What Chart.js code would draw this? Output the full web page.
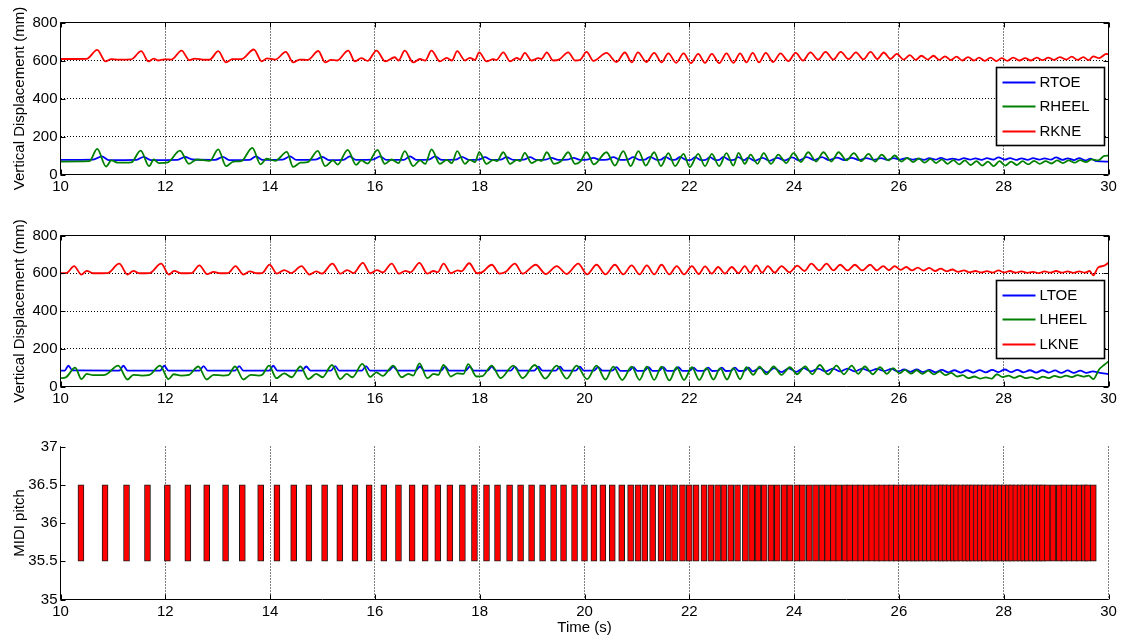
<!DOCTYPE html>
<html>
<head>
<meta charset="utf-8">
<script src="https://cdn.jsdelivr.net/npm/chart.js@4.4.1/dist/chart.umd.min.js"></script>
<style>
  body { margin: 0; background: #fff; }
  #wrap { position: relative; width: 1123px; height: 639px; background: #fff; }
  canvas { position: absolute; left: 0; }
</style>
</head>
<body>
<div id="wrap">
  <canvas id="topChart" width="1123" height="205" style="top:0px"></canvas>
  <canvas id="midChart" width="1123" height="215" style="top:205px"></canvas>
  <canvas id="botChart" width="1123" height="219" style="top:420px"></canvas>
</div>
<script>
// tick labels
const timeTicks = [10, 12, 14, 16, 18, 20, 22, 24, 26, 28, 30];
const dispTicks = [0, 200, 400, 600, 800];
const pitchTicks = [35, 35.5, 36, 36.5, 37];

// right leg markers, [time (s), vertical displacement (mm)] read at peaks / troughs
const rtoe = [[10.00,77],[10.62,78],[10.79,95],[10.92,76],[11.45,77],[11.59,93],[11.72,76],[12.22,77],[12.38,92],[12.52,79],
  [12.95,77],[13.10,93],[13.22,76],[13.60,77],[13.73,95],[13.86,77],[14.24,78],[14.38,95],[14.50,77],[14.86,78],
  [15.00,92],[15.12,76],[15.40,77],[15.52,95],[15.64,77],[15.96,78],[16.10,95],[16.22,77],[16.55,77],[16.67,95],
  [16.80,77],[17.03,78],[17.15,95],[17.28,77],[17.54,78],[17.66,93],[17.79,77],[17.98,78],[18.10,91],[18.22,77],
  [18.40,78],[18.51,91],[18.64,77],[18.84,78],[18.96,91],[19.08,77],[19.25,78],[19.37,88],[19.50,77],[19.67,78],
  [19.79,88],[19.92,77],[20.05,78],[20.17,88],[20.30,77],[20.43,78],[20.55,91],[20.68,77],[20.82,78],[20.93,91],
  [21.05,77],[21.15,78],[21.25,93],[21.38,77],[21.46,78],[21.54,93],[21.66,77],[21.74,78],[21.82,93],[21.95,76],
  [22.03,77],[22.11,91],[22.23,76],[22.31,77],[22.39,91],[22.51,76],[22.57,77],[22.65,93],[22.77,76],[22.85,77],
  [22.93,91],[23.05,76],[23.12,89],[23.25,72],[23.40,88],[23.53,72],[23.68,88],[23.82,74],[23.96,90],[24.10,74],
  [24.24,91],[24.39,76],[24.53,91],[24.67,76],[24.82,89],[24.96,76],[25.10,88],[25.24,76],[25.38,86],[25.52,77],
  [25.66,86],[25.78,77],[25.90,86],[26.02,78],[26.14,86],[26.26,78],[26.36,84],[26.48,77],[26.58,86],[26.70,78],
  [26.80,88],[26.92,78],[27.02,84],[27.14,77],[27.24,86],[27.36,78],[27.46,85],[27.58,77],[27.68,86],[27.80,78],
  [27.90,90],[28.02,78],[28.12,86],[28.24,77],[28.34,85],[28.46,77],[28.56,86],[28.68,78],[28.78,85],[28.90,78],
  [29.00,90],[29.12,77],[29.22,85],[29.34,76],[29.44,86],[29.56,74],[29.66,84],[29.76,70],[30.00,68]];

const rheel = [[10.00,68],[10.55,70],[10.70,135],[10.87,42],[10.97,74],[11.10,62],[11.35,64],[11.53,126],[11.69,44],[11.78,79],
  [11.88,60],[12.05,64],[12.28,126],[12.45,56],[12.60,79],[12.85,72],[13.01,132],[13.16,44],[13.30,68],[13.45,70],
  [13.66,140],[13.82,53],[13.93,83],[14.10,72],[14.32,119],[14.44,40],[14.58,62],[14.72,65],[14.91,124],[15.05,44],
  [15.20,74],[15.29,52],[15.48,130],[15.64,51],[15.74,74],[15.86,57],[16.05,130],[16.19,56],[16.32,79],[16.45,60],
  [16.57,123],[16.73,44],[16.86,74],[16.96,56],[17.08,132],[17.24,56],[17.37,77],[17.47,60],[17.57,123],[17.72,56],
  [17.81,77],[17.91,65],[17.99,117],[18.13,56],[18.26,77],[18.33,70],[18.45,117],[18.58,56],[18.71,77],[18.77,70],
  [18.86,114],[18.99,60],[19.12,77],[19.18,72],[19.28,117],[19.42,56],[19.55,70],[19.69,117],[19.82,56],[19.92,68],
  [20.04,117],[20.18,53],[20.42,117],[20.58,47],[20.74,123],[20.88,44],[21.03,123],[21.17,47],[21.33,117],[21.46,44],
  [21.60,112],[21.73,44],[21.89,109],[22.01,39],[22.17,109],[22.30,44],[22.43,109],[22.57,44],[22.71,112],[22.84,47],
  [22.94,114],[23.06,56],[23.17,105],[23.30,56],[23.42,112],[23.56,56],[23.70,105],[23.85,60],[23.99,112],[24.13,65],
  [24.27,117],[24.42,68],[24.56,117],[24.71,68],[24.85,117],[25.00,74],[25.14,112],[25.28,70],[25.42,109],[25.55,68],
  [25.67,105],[25.80,74],[25.92,100],[26.05,68],[26.16,88],[26.27,65],[26.38,85],[26.49,62],[26.60,82],[26.71,60],
  [26.82,80],[26.93,56],[27.04,76],[27.15,53],[27.26,74],[27.37,50],[27.48,70],[27.59,47],[27.70,68],[27.81,44],
  [27.92,70],[28.03,47],[28.14,68],[28.25,50],[28.36,70],[28.47,53],[28.58,72],[28.69,56],[28.80,70],[28.91,58],
  [29.02,74],[29.13,60],[29.24,74],[29.35,62],[29.46,76],[29.57,65],[29.68,80],[29.80,74],[29.92,98],[30.00,100]];

const rkne = [[10.00,608],[10.50,609],[10.70,656],[10.86,595],[10.97,607],[11.10,605],[11.35,606],[11.54,649],[11.68,595],[11.78,610],
  [11.86,600],[11.98,606],[12.12,605],[12.31,652],[12.46,602],[12.56,610],[12.75,604],[12.85,605],[13.01,649],[13.16,590],
  [13.28,607],[13.45,607],[13.69,658],[13.84,595],[13.94,611],[14.10,605],[14.30,645],[14.44,590],[14.56,605],[14.72,603],
  [14.92,650],[15.05,590],[15.16,603],[15.28,600],[15.49,652],[15.62,595],[15.74,612],[15.86,598],[16.03,652],[16.20,595],
  [16.38,617],[16.45,600],[16.57,652],[16.73,590],[16.86,608],[16.96,600],[17.08,652],[17.24,595],[17.37,614],[17.47,600],
  [17.57,649],[17.72,600],[17.81,614],[17.91,603],[17.99,643],[18.13,595],[18.26,607],[18.32,603],[18.45,643],[18.58,596],
  [18.71,614],[18.77,605],[18.86,640],[18.99,600],[19.12,612],[19.18,608],[19.28,643],[19.40,600],[19.52,606],[19.69,643],
  [19.82,600],[19.92,604],[20.04,645],[20.17,598],[20.42,640],[20.61,592],[20.77,642],[20.90,590],[21.02,643],[21.18,592],
  [21.33,640],[21.47,590],[21.60,637],[21.75,588],[21.89,637],[22.03,586],[22.17,635],[22.30,588],[22.43,635],[22.57,586],
  [22.71,637],[22.84,588],[22.97,638],[23.09,590],[23.21,640],[23.33,590],[23.46,640],[23.60,592],[23.74,638],[23.89,597],
  [24.03,640],[24.17,600],[24.31,643],[24.46,605],[24.60,645],[24.75,605],[24.89,645],[25.04,607],[25.18,643],[25.32,606],
  [25.46,645],[25.59,608],[25.71,642],[25.84,608],[25.96,635],[26.09,605],[26.21,628],[26.32,603],[26.43,625],[26.55,605],
  [26.66,625],[26.77,603],[26.88,622],[26.99,602],[27.10,620],[27.21,600],[27.32,618],[27.43,600],[27.53,615],[27.64,598],
  [27.75,615],[27.86,597],[27.96,612],[28.07,598],[28.18,615],[28.30,600],[28.41,612],[28.52,600],[28.63,615],[28.74,602],
  [28.85,615],[28.96,603],[29.07,618],[29.19,605],[29.30,620],[29.41,603],[29.52,618],[29.62,602],[29.71,622],[29.82,612],
  [29.96,635],[30.00,633]];

// left leg markers
const ltoe = [[10.00,84],[10.08,84],[10.15,110],[10.23,85],[11.12,84],[11.20,110],[11.28,84],[11.90,84],[11.98,110],[12.06,84],
  [12.65,84],[12.73,108],[12.81,84],[13.33,84],[13.41,108],[13.49,84],[13.98,84],[14.06,110],[14.14,84],[14.61,84],
  [14.69,106],[14.77,84],[15.16,84],[15.24,108],[15.32,84],[15.75,84],[15.83,108],[15.91,84],[16.27,84],[16.35,106],
  [16.43,84],[16.78,84],[16.86,106],[16.94,84],[17.26,84],[17.34,105],[17.42,84],[17.73,84],[17.81,105],[17.89,84],
  [18.15,84],[18.23,105],[18.31,84],[18.59,84],[18.67,105],[18.75,84],[19.04,84],[19.12,105],[19.20,84],[19.45,84],
  [19.53,105],[19.61,84],[19.83,84],[19.91,105],[19.99,84],[20.18,84],[20.26,103],[20.34,84],[20.53,84],[20.61,103],
  [20.69,83],[20.86,84],[20.93,103],[21.01,83],[21.15,84],[21.22,103],[21.30,83],[21.43,84],[21.50,103],[21.58,83],
  [21.72,84],[21.79,103],[21.87,83],[22.01,84],[22.08,100],[22.16,83],[22.29,84],[22.36,100],[22.44,82],[22.55,84],
  [22.62,100],[22.70,82],[22.80,84],[22.87,100],[22.95,82],[23.06,84],[23.13,100],[23.21,80],[23.35,97],[23.48,75],
  [23.62,97],[23.76,76],[23.90,96],[24.04,78],[24.18,97],[24.32,80],[24.46,95],[24.60,80],[24.74,95],[24.88,80],
  [25.02,95],[25.16,80],[25.30,95],[25.44,82],[25.58,93],[25.72,82],[25.86,93],[25.98,80],[26.10,90],[26.22,78],
  [26.34,90],[26.46,76],[26.58,88],[26.70,75],[26.82,88],[26.94,75],[27.06,86],[27.18,74],[27.30,86],[27.42,74],
  [27.54,87],[27.66,75],[27.78,88],[27.90,76],[28.02,90],[28.14,76],[28.26,88],[28.38,75],[28.50,86],[28.62,74],
  [28.74,86],[28.86,74],[28.98,85],[29.10,72],[29.22,85],[29.34,72],[29.46,84],[29.58,72],[29.70,80],[29.82,74],
  [30.00,66]];

const lheel = [[10.00,44],[10.10,48],[10.28,100],[10.40,39],[10.50,67],[10.62,60],[10.85,62],[11.10,111],[11.28,37],[11.39,62],
  [11.55,58],[11.70,62],[11.90,111],[12.06,39],[12.16,65],[12.30,58],[12.45,62],[12.63,106],[12.79,37],[12.92,62],
  [13.10,58],[13.20,60],[13.33,106],[13.49,37],[13.63,62],[13.78,58],[13.85,62],[13.98,111],[14.12,44],[14.27,70],
  [14.41,49],[14.58,106],[14.73,39],[14.88,67],[15.00,49],[15.18,114],[15.34,39],[15.46,67],[15.57,49],[15.76,120],
  [15.91,51],[16.03,75],[16.15,56],[16.35,111],[16.51,49],[16.64,67],[16.73,58],[16.85,123],[17.00,44],[17.12,67],
  [17.21,62],[17.31,114],[17.45,53],[17.57,70],[17.69,67],[17.78,119],[17.94,53],[18.05,55],[18.23,111],[18.40,44],
  [18.64,111],[18.82,44],[19.05,114],[19.25,42],[19.47,111],[19.66,42],[19.85,111],[20.05,39],[20.23,111],[20.40,37],
  [20.55,105],[20.72,35],[20.90,105],[21.05,35],[21.19,105],[21.33,35],[21.47,105],[21.62,32],[21.76,102],[21.90,35],
  [22.05,102],[22.19,35],[22.33,97],[22.46,37],[22.59,97],[22.72,37],[22.84,97],[22.97,39],[23.09,102],[23.22,62],
  [23.34,105],[23.47,64],[23.61,106],[23.76,62],[23.92,102],[24.06,65],[24.21,106],[24.35,65],[24.49,114],[24.65,64],
  [24.81,111],[24.95,65],[25.10,111],[25.22,67],[25.35,106],[25.50,65],[25.64,102],[25.77,67],[25.89,97],[26.01,70],
  [26.12,88],[26.23,68],[26.34,86],[26.45,67],[26.56,84],[26.67,64],[26.78,80],[26.89,60],[27.00,72],[27.11,53],
  [27.22,60],[27.33,44],[27.44,53],[27.55,42],[27.66,48],[27.77,42],[27.87,65],[27.98,50],[28.09,58],[28.20,46],
  [28.31,56],[28.42,44],[28.53,50],[28.64,40],[28.75,52],[28.86,44],[28.97,56],[29.08,48],[29.19,58],[29.30,50],
  [29.41,60],[29.52,52],[29.62,58],[29.71,39],[29.82,90],[29.92,115],[30.00,132]];

const lkne = [[10.00,600],[10.12,602],[10.26,638],[10.40,593],[10.50,613],[10.62,600],[10.90,601],[11.12,651],[11.28,593],[11.39,613],
  [11.50,600],[11.70,601],[11.92,651],[12.07,593],[12.17,613],[12.30,600],[12.50,601],[12.65,642],[12.80,595],[12.92,607],
  [13.05,600],[13.20,601],[13.34,638],[13.49,593],[13.61,610],[13.75,600],[13.85,601],[13.99,646],[14.13,598],[14.27,617],
  [14.40,601],[14.60,638],[14.75,593],[14.88,610],[14.99,598],[15.19,651],[15.34,598],[15.47,617],[15.59,601],[15.77,655],
  [15.91,600],[16.04,617],[16.15,604],[16.32,651],[16.46,598],[16.58,613],[16.68,605],[16.85,655],[17.00,598],[17.12,612],
  [17.20,606],[17.31,651],[17.45,600],[17.58,615],[17.65,610],[17.80,653],[17.95,600],[18.05,606],[18.23,645],[18.38,598],
  [18.50,608],[18.67,651],[18.82,598],[19.07,645],[19.26,596],[19.47,638],[19.66,596],[19.88,651],[20.05,594],[20.23,645],
  [20.40,594],[20.58,645],[20.74,594],[20.90,642],[21.05,594],[21.19,642],[21.33,594],[21.47,645],[21.62,594],[21.76,638],
  [21.90,594],[22.05,638],[22.18,596],[22.30,636],[22.43,598],[22.55,633],[22.68,598],[22.81,633],[22.94,600],[23.06,638],
  [23.16,603],[23.28,642],[23.39,603],[23.50,638],[23.63,603],[23.76,638],[23.91,605],[24.06,640],[24.20,612],[24.33,651],
  [24.48,615],[24.62,651],[24.75,615],[24.88,645],[25.02,615],[25.16,645],[25.30,615],[25.45,645],[25.58,615],[25.70,638],
  [25.81,616],[25.92,638],[26.03,618],[26.14,633],[26.25,615],[26.36,630],[26.47,614],[26.58,628],[26.69,612],[26.80,624],
  [26.91,610],[27.02,620],[27.13,607],[27.24,615],[27.35,605],[27.46,612],[27.57,604],[27.68,611],[27.79,603],[27.90,615],
  [28.01,604],[28.12,612],[28.23,603],[28.34,610],[28.45,602],[28.56,607],[28.67,601],[28.78,610],[28.89,603],[29.00,612],
  [29.11,603],[29.22,610],[29.33,602],[29.44,610],[29.55,603],[29.64,612],[29.71,589],[29.80,630],[29.92,640],[30.00,656]];

// detected drum notes: onset centre times (s); each note is MIDI 36, drawn from 35.5 to 36.5
const noteTimes = [10.39, 10.85, 11.26, 11.66, 12.04, 12.43, 12.79, 13.15, 13.47, 13.82,
  14.13, 14.45, 14.74, 15.04, 15.33, 15.62, 15.89, 16.17, 16.45, 16.71,
  16.96, 17.20, 17.43, 17.67, 17.90, 18.13, 18.34, 18.57, 18.78, 18.99,
  19.20, 19.41, 19.60, 19.81, 20.00, 20.18, 20.35, 20.53, 20.71, 20.88,
  21.02, 21.15, 21.30, 21.46, 21.60, 21.72, 21.87, 22.00, 22.13, 22.28,
  22.41, 22.54, 22.66, 22.79, 22.92, 23.07, 23.19, 23.31, 23.43, 23.56,
  23.68, 23.81, 23.92, 24.05, 24.16, 24.29, 24.41, 24.53, 24.64, 24.75,
  24.85, 24.97, 25.06, 25.17, 25.27, 25.38, 25.48, 25.58, 25.67, 25.77,
  25.86, 25.95, 26.04, 26.12, 26.20, 26.28, 26.35, 26.43, 26.50, 26.58,
  26.66, 26.74, 26.81, 26.88, 26.96, 27.04, 27.10, 27.18, 27.26, 27.33,
  27.40, 27.48, 27.55, 27.63, 27.70, 27.79, 27.86, 27.93, 28.01, 28.09,
  28.15, 28.23, 28.31, 28.38, 28.45, 28.53, 28.60, 28.68, 28.74, 28.83,
  28.94, 29.06, 29.15, 29.25, 29.35, 29.44, 29.54, 29.60, 29.71];
const notePitch = 36;

Chart.defaults.font.family = '"Liberation Sans", Arial, sans-serif';
Chart.defaults.font.size = 15;
Chart.defaults.color = '#000';

const FONT = '15px "Liberation Sans", Arial, sans-serif';

// box, inside tick marks and boxed legend, drawn the MATLAB way
const matlabAxes = {
  id: 'matlabAxes',
  afterDatasetsDraw(chart, args, opts) {
    const {ctx, chartArea: a, scales: {x, y}} = chart;
    ctx.save();
    ctx.setLineDash([]);
    ctx.strokeStyle = '#000';
    ctx.lineWidth = 1;
    ctx.beginPath();
    x.ticks.forEach(t => {
      const px = Math.round(x.getPixelForValue(t.value)) + 0.5;
      ctx.moveTo(px, a.bottom); ctx.lineTo(px, a.bottom - 5);
      if (opts.box) { ctx.moveTo(px, a.top); ctx.lineTo(px, a.top + 5); }
    });
    y.ticks.forEach(t => {
      const py = Math.round(y.getPixelForValue(t.value)) + 0.5;
      ctx.moveTo(a.left, py); ctx.lineTo(a.left + 5, py);
      if (opts.box) { ctx.moveTo(a.right, py); ctx.lineTo(a.right - 5, py); }
    });
    ctx.stroke();
    ctx.beginPath();
    ctx.moveTo(a.left, a.top); ctx.lineTo(a.left, a.bottom); ctx.lineTo(a.right, a.bottom);
    if (opts.box) { ctx.lineTo(a.right, a.top); ctx.closePath(); }
    ctx.stroke();

    if (opts.legend) {
      const w = 108, h = 78;
      const lx = a.right - 4 - w, ly = a.top + 45;
      ctx.fillStyle = '#fff';
      ctx.fillRect(lx, ly, w, h);
      ctx.lineWidth = 1.6;
      ctx.strokeRect(lx, ly, w, h);
      ctx.font = FONT;
      ctx.textBaseline = 'middle';
      chart.data.datasets.forEach((ds, i) => {
        const ry = Math.round(ly + 14 + i * 24.7) + 0.5;
        ctx.strokeStyle = ds.borderColor;
        ctx.lineWidth = 1.8;
        ctx.beginPath(); ctx.moveTo(lx + 6, ry); ctx.lineTo(lx + 39, ry); ctx.stroke();
        ctx.fillStyle = '#000';
        ctx.fillText(ds.label, lx + 43, ry);
      });
    }
    ctx.restore();
  }
};

const toPoints = arr => arr.map(p => ({x: p[0], y: p[1]}));
const grid = {color: '#000', lineWidth: 1, drawTicks: false};
const dotted = {display: false, dash: [1, 2]};

function timeAxis(axisHeight, title) {
  return {
    type: 'linear', min: 10, max: 30, offset: false,
    grid: Object.assign({offset: false}, grid),
    border: dotted,
    afterBuildTicks: ax => { ax.ticks = timeTicks.map(v => ({value: v})); },
    afterFit: ax => { ax.height = axisHeight; },
    ticks: {padding: 3, autoSkip: false, maxRotation: 0, callback: v => String(v)},
    title: title ? {display: true, text: title, padding: {top: 0, bottom: 2.5}} : {display: false}
  };
}

function valueAxis(min, max, tickList, title, showGrid) {
  return {
    type: 'linear', min: min, max: max,
    grid: Object.assign({}, grid, {display: showGrid}),
    border: dotted,
    afterBuildTicks: ax => { ax.ticks = tickList.map(v => ({value: v})); },
    afterFit: ax => { ax.width = 60.5; },
    ticks: {padding: 3, callback: v => String(v)},
    title: {display: true, text: title, padding: {top: 10.5, bottom: 0}}
  };
}

function legDataset(label, arr, color, order) {
  return {
    label: label, data: toPoints(arr), borderColor: color, backgroundColor: color,
    borderWidth: 1.8, pointRadius: 0, cubicInterpolationMode: 'monotone', order: order, fill: false
  };
}

function legChart(id, names, series, padTop, axisHeight) {
  return new Chart(document.getElementById(id), {
    type: 'line',
    data: {
      datasets: [
        legDataset(names[0], series[0], '#0000ff', 3),
        legDataset(names[1], series[1], '#008000', 2),
        legDataset(names[2], series[2], '#ff0000', 1)
      ]
    },
    options: {
      responsive: false, animation: false, devicePixelRatio: 1,
      layout: {padding: {top: padTop, right: 14.5, left: 0, bottom: 0}},
      scales: {
        x: timeAxis(axisHeight, null),
        y: valueAxis(0, 800, dispTicks, 'Vertical Displacement (mm)', true)
      },
      plugins: {legend: {display: false}, tooltip: {enabled: false}, matlabAxes: {box: true, legend: true}}
    },
    plugins: [matlabAxes]
  });
}

legChart('topChart', ['RTOE', 'RHEEL', 'RKNE'], [rtoe, rheel, rkne], 22.5, 30.5);
legChart('midChart', ['LTOE', 'LHEEL', 'LKNE'], [ltoe, lheel, lkne], 30.5, 33.5);

new Chart(document.getElementById('botChart'), {
  type: 'bar',
  data: {
    datasets: [{
      label: 'notes',
      data: noteTimes.map(t => ({x: t, y: [notePitch - 0.5, notePitch + 0.5]})),
      backgroundColor: '#ff0000', borderColor: '#1a1a1a', borderWidth: 1,
      borderSkipped: false, barThickness: 6
    }]
  },
  options: {
    responsive: false, animation: false, devicePixelRatio: 1,
    layout: {padding: {top: 26.5, right: 14.5, left: 0, bottom: 0}},
    scales: {
      x: timeAxis(39.5, 'Time (s)'),
      y: valueAxis(35, 37, pitchTicks, 'MIDI pitch', false)
    },
    plugins: {legend: {display: false}, tooltip: {enabled: false}, matlabAxes: {box: false, legend: false}}
  },
  plugins: [matlabAxes]
});
</script>
</body>
</html>
